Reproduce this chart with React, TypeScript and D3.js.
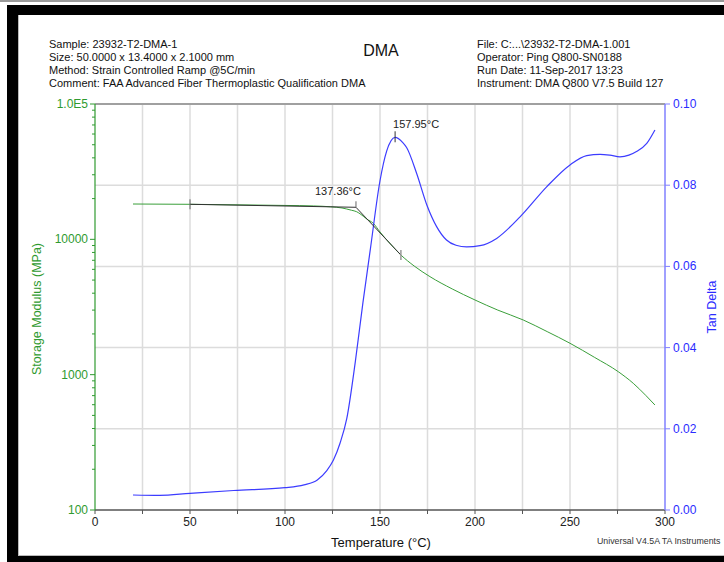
import React from "react";
import * as d3 from "d3";

// header info
const headerLeft = [
  "Sample: 23932-T2-DMA-1",
  "Size:  50.0000 x 13.4000 x 2.1000 mm",
  "Method: Strain Controlled Ramp @5C/min",
  "Comment: FAA Advanced Fiber Thermoplastic Qualification DMA",
];
const headerRight = [
  "File: C:...\\23932-T2-DMA-1.001",
  "Operator: Ping Q800-SN0188",
  "Run Date: 11-Sep-2017 13:23",
  "Instrument: DMA Q800 V7.5 Build 127",
];

// storage modulus (MPa) vs temperature
const tempE = [20, 50, 80, 100, 115, 124, 130, 135, 137.7, 140, 143, 146.5, 150, 155, 161, 168, 176.3, 188, 200, 212, 225.4, 238, 250, 263, 275.4, 283.3, 290, 294.7];
const modulus = [18240, 18150, 17950, 17800, 17650, 17400, 17050, 16400, 16000, 15270, 14130, 13130, 11330, 9400, 7660, 6350, 5300, 4300, 3563, 3000, 2535, 2080, 1706, 1340, 1052, 863, 700, 597];

// tan delta vs temperature
const tempTD = [20, 34, 50, 73, 100, 110, 117, 122, 125.5, 129, 132.5, 137, 141, 145, 150, 153.5, 157.95, 162, 164, 169.3, 174.6, 179.8, 185, 190, 195.6, 202.6, 211.4, 223.7, 237.7, 250, 258.8, 265.8, 271, 276.3, 281, 285, 290.4, 294.7];
const tanDelta = [0.0037, 0.0036, 0.0041, 0.0048, 0.0055, 0.0062, 0.0074, 0.0097, 0.0123, 0.0165, 0.0225, 0.0365, 0.051, 0.0645, 0.0811, 0.0884, 0.0918, 0.0905, 0.0893, 0.0829, 0.0752, 0.0698, 0.0665, 0.0652, 0.0648, 0.0651, 0.0669, 0.0722, 0.0796, 0.085, 0.0873, 0.0876, 0.0874, 0.087, 0.0874, 0.0883, 0.0903, 0.0936];

// onset analysis lines
const baseT = [50, 137.36];
const baseE = [18150, 17250];
const tangT = [137.36, 161];
const tangE = [17250, 7660];
const peakT = 157.95;
const peakTD = 0.0918;

const xTicks = [0, 50, 100, 150, 200, 250, 300];
const xMinor = [25, 75, 125, 175, 225, 275];
const eTicks = [100, 1000, 10000, 100000];
const eLabels = ["100", "1000", "10000", "1.0E5"];
const tdTicks = [0, 0.02, 0.04, 0.06, 0.08, 0.1];

const FONT = "'Liberation Sans', Arial, sans-serif";
const GREEN = "#2f9a2f";
const BLUE = "#2b2bff";

export default function App() {
  const W = 724, H = 562;
  const left = 95, right = 665, top = 104, bottom = 510;

  const x = d3.scaleLinear().domain([0, 300]).range([left, right]);
  const yE = d3.scaleLog().domain([100, 100000]).range([bottom, top]);
  const yT = d3.scaleLinear().domain([0, 0.1]).range([bottom, top]);

  const lineE = d3.line<number>()
    .x((d, i) => x(tempE[i]))
    .y((d) => yE(d))
    .curve(d3.curveMonotoneX);
  const lineT = d3.line<number>()
    .x((d, i) => x(tempTD[i]))
    .y((d) => yT(d))
    .curve(d3.curveMonotoneX);

  const minorE: number[] = [];
  [100, 1000, 10000].forEach((dec) => {
    for (let k = 2; k <= 9; k++) minorE.push(dec * k);
  });

  return (
    <svg width={W} height={H} style={{ position: "fixed", left: 0, top: 0, background: "#fff" }} fontFamily={FONT}>
      {/* frame */}
      <rect x={0} y={0} width={W} height={2} fill="#9a9a9a" />
      <rect x={7} y={5} width={W - 7} height={10} fill="#000" />
      <rect x={7} y={5} width={11} height={H - 5} fill="#000" />
      <rect x={7} y={556} width={W - 7} height={6} fill="#000" />
      <line x1={18.5} y1={15} x2={18.5} y2={556} stroke="#bbb" />
      <line x1={18} y1={555.5} x2={W} y2={555.5} stroke="#bbb" />

      {/* header */}
      {headerLeft.map((t, i) => (
        <text key={"hl" + i} x={49} y={48 + i * 13} fontSize={11} fill="#111">{t}</text>
      ))}
      {headerRight.map((t, i) => (
        <text key={"hr" + i} x={477} y={48 + i * 13} fontSize={11} fill="#111">{t}</text>
      ))}
      <text x={381} y={56} fontSize={16} textAnchor="middle" fill="#111">DMA</text>

      {/* grid */}
      {[...xMinor, 50, 100, 150, 200, 250].map((t) => (
        <line key={"gx" + t} x1={x(t)} x2={x(t)} y1={top} y2={bottom} stroke="#dcdcdc" strokeWidth={1.5} />
      ))}
      {tdTicks.slice(1, 5).map((t) => (
        <line key={"gy" + t} x1={left} x2={right} y1={yT(t)} y2={yT(t)} stroke="#dcdcdc" strokeWidth={1.5} />
      ))}
      <line x1={left} x2={right} y1={top} y2={top} stroke="#a0a0a0" strokeWidth={2} />

      {/* x axis */}
      <line x1={left} x2={right} y1={bottom} y2={bottom} stroke="#555" strokeWidth={1.5} />
      {[...xTicks, ...xMinor].map((t) => (
        <line key={"xt" + t} x1={x(t)} x2={x(t)} y1={bottom} y2={bottom + 4} stroke="#555" />
      ))}
      {xTicks.map((t) => (
        <text key={"xl" + t} x={x(t)} y={526} fontSize={12} textAnchor="middle" fill="#222">{t}</text>
      ))}
      <text x={381} y={547} fontSize={13} textAnchor="middle" fill="#111">Temperature (°C)</text>
      <text x={597} y={544} fontSize={8.8} fill="#333">Universal V4.5A TA Instruments</text>

      {/* left axis */}
      <line x1={left} x2={left} y1={top} y2={bottom} stroke={GREEN} strokeWidth={1.2} />
      {eTicks.map((t) => (
        <line key={"et" + t} x1={left - 5} x2={left} y1={yE(t)} y2={yE(t)} stroke={GREEN} />
      ))}
      {minorE.map((t) => (
        <line key={"em" + t} x1={left - 3} x2={left} y1={yE(t)} y2={yE(t)} stroke={GREEN} />
      ))}
      {eTicks.map((t, i) => (
        <text key={"el" + t} x={left - 7} y={yE(t) + 4} fontSize={12} textAnchor="end" fill={GREEN}>{eLabels[i]}</text>
      ))}
      <text transform={`translate(41,${(top + bottom) / 2 + 2}) rotate(-90)`} fontSize={12.5} textAnchor="middle" fill={GREEN}>Storage Modulus (MPa)</text>

      {/* right axis */}
      <line x1={right} x2={right} y1={top} y2={bottom} stroke="#8080ff" strokeWidth={1.5} />
      {tdTicks.map((t) => (
        <line key={"tt" + t} x1={right} x2={right + 5} y1={yT(t)} y2={yT(t)} stroke="#8080ff" />
      ))}
      {tdTicks.map((t) => (
        <text key={"tl" + t} x={right + 8} y={yT(t) + 4} fontSize={12} fill={BLUE}>{d3.format(".2f")(t)}</text>
      ))}
      <text transform={`translate(716,${(top + bottom) / 2}) rotate(-90)`} fontSize={12.5} textAnchor="middle" fill={BLUE}>Tan Delta</text>

      {/* curves */}
      <path d={lineE(modulus) || ""} fill="none" stroke="#3a9f3a" strokeWidth={1} />
      <path d={lineT(tanDelta) || ""} fill="none" stroke="#3c3cff" strokeWidth={1.2} />

      {/* onset construction */}
      <line x1={x(baseT[0])} y1={yE(baseE[0])} x2={x(baseT[1])} y2={yE(baseE[1])} stroke="#333" strokeWidth={1} />
      <line x1={x(tangT[0])} y1={yE(tangE[0])} x2={x(tangT[1])} y2={yE(tangE[1])} stroke="#333" strokeWidth={1} />
      <line x1={x(baseT[0])} x2={x(baseT[0])} y1={yE(baseE[0]) - 5} y2={yE(baseE[0]) + 5} stroke="#666" />
      <line x1={x(tangT[0])} x2={x(tangT[0])} y1={yE(tangE[0]) - 6} y2={yE(tangE[0])} stroke="#666" />
      <line x1={x(tangT[1])} x2={x(tangT[1])} y1={yE(tangE[1]) - 5} y2={yE(tangE[1]) + 5} stroke="#999" strokeWidth={1.5} />
      <text x={x(tangT[0]) - 18} y={195} fontSize={11} textAnchor="middle" fill="#222">137.36°C</text>

      <line x1={x(peakT)} x2={x(peakT)} y1={yT(peakTD) - 6} y2={yT(peakTD) + 5} stroke="#333" />
      <text x={x(peakT) + 21} y={128} fontSize={11} textAnchor="middle" fill="#222">157.95°C</text>
    </svg>
  );
}
